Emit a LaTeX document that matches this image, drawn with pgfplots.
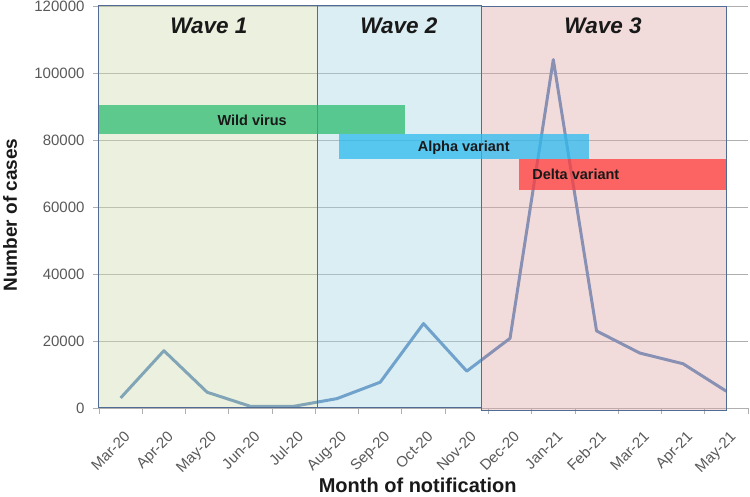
\documentclass[border=0pt]{standalone}
\usepackage{fontspec}
\setmainfont{Liberation Sans}
\usepackage{pgfplots}
\pgfplotsset{compat=1.18}
\definecolor{waveA}{RGB}{205,220,172}
\definecolor{waveB}{RGB}{162,212,225}
\definecolor{waveC}{RGB}{222,167,165}
\definecolor{rectborder}{RGB}{80,108,148}
\definecolor{linecol}{RGB}{79,129,189}
\definecolor{wildc}{RGB}{46,188,113}
\definecolor{alphac}{RGB}{45,187,239}
\definecolor{deltac}{RGB}{255,60,60}
\definecolor{gridc}{RGB}{175,175,175}
\definecolor{tickc}{RGB}{89,89,89}
\definecolor{labc}{RGB}{25,25,25}
\begin{document}
\begin{tikzpicture}
\begin{axis}[
  scale only axis, width=649pt, height=402pt,
  xmin=-0.5, xmax=14.5, ymin=0, ymax=120000,
  clip=false,
  axis x line*=bottom, axis y line*=left,
  x axis line style={draw=gridc, line width=0.8pt},
  y axis line style={draw=rectborder, line width=1pt},
  ytick={0,20000,40000,60000,80000,100000,120000},
  yticklabels={0,20000,40000,60000,80000,100000,120000},
  ymajorgrids, major grid style={draw=gridc, line width=0.9pt},
  scaled y ticks=false,
  yticklabel style={font=\fontsize{15}{17}\selectfont, text=tickc, xshift=-5pt},
  xtick={-0.5,0.5,1.5,2.5,3.5,4.5,5.5,6.5,7.5,8.5,9.5,10.5,11.5,12.5,13.5,14.5},
  x tick label as interval,
  xticklabels={Mar-20,Apr-20,May-20,Jun-20,Jul-20,Aug-20,Sep-20,Oct-20,Nov-20,Dec-20,Jan-21,Feb-21,Mar-21,Apr-21,May-21,{}},
  xticklabel style={rotate=45, anchor=north east, font=\fontsize{15}{17}\selectfont, text=tickc, xshift=-6pt, yshift=-10pt},
  tick align=outside, major tick length=6pt,
  tick style={draw=gridc, line width=0.8pt},
  xlabel={Month of notification},
  ylabel={Number of cases},
  xlabel style={font=\fontsize{20}{23}\selectfont\bfseries, text=labc,
    at={(axis description cs:0.491,0)}, anchor=base, yshift=-85pt},
  ylabel style={font=\fontsize{19}{22}\selectfont\bfseries, text=labc,
    at={(axis description cs:0,0.48)}, anchor=base, yshift=82pt},
]
\coordinate (BL) at (rel axis cs:0,0);
\coordinate (TR) at (rel axis cs:1,1);
% case line (under the translucent wave panels)
\addplot[linecol, line width=3pt, line join=round] coordinates {
  (0,3000) (1,17100) (2,4700) (3,500) (4,500) (5,2800) (6,7700) (7,25200)
  (8,11000) (9,20800) (10,104000) (11,23000) (12,16400) (13,13200) (14,5000)
};
% wave panels
\addplot[fill=waveA, fill opacity=0.4, draw=rectborder, line width=1pt]
  coordinates {(-0.5,0) (4.54,0) (4.54,120000) (-0.5,120000)} -- cycle;
\addplot[fill=waveB, fill opacity=0.4, draw=rectborder, line width=1pt]
  coordinates {(4.54,0) (8.34,0) (8.34,120000) (4.54,120000)} -- cycle;
\addplot[fill=waveC, fill opacity=0.4, draw=rectborder, line width=1pt]
  coordinates {(8.34,-600) (14,-600) (14,119700) (8.34,119700)} -- cycle;
% variant bars
\addplot[fill=wildc, fill opacity=0.75, draw=none]
  coordinates {(-0.5,81700) (6.58,81700) (6.58,90400) (-0.5,90400)} -- cycle;
\addplot[fill=alphac, fill opacity=0.75, draw=none]
  coordinates {(5.05,74300) (10.83,74300) (10.83,81700) (5.05,81700)} -- cycle;
\addplot[fill=deltac, fill opacity=0.75, draw=none]
  coordinates {(9.21,65000) (14,65000) (14,74300) (9.21,74300)} -- cycle;
% labels
\node[font=\fontsize{22.5}{26}\selectfont\bfseries\itshape, text=labc] at (axis cs:2.04,114000) {Wave 1};
\node[font=\fontsize{22.5}{26}\selectfont\bfseries\itshape, text=labc] at (axis cs:6.43,114000) {Wave 2};
\node[font=\fontsize{22.5}{26}\selectfont\bfseries\itshape, text=labc] at (axis cs:11.15,114000) {Wave 3};
\node[font=\fontsize{14.5}{17}\selectfont\bfseries, text=labc] at (axis cs:3.04,86000) {Wild virus};
\node[font=\fontsize{14.5}{17}\selectfont\bfseries, text=labc] at (axis cs:7.93,77700) {Alpha variant};
\node[font=\fontsize{14.5}{17}\selectfont\bfseries, text=labc] at (axis cs:10.52,69900) {Delta variant};
\end{axis}
\pgfresetboundingbox
\path[use as bounding box] ([xshift=-99pt,yshift=-89pt]BL) rectangle ([xshift=2pt,yshift=6pt]TR);
\end{tikzpicture}
\end{document}
